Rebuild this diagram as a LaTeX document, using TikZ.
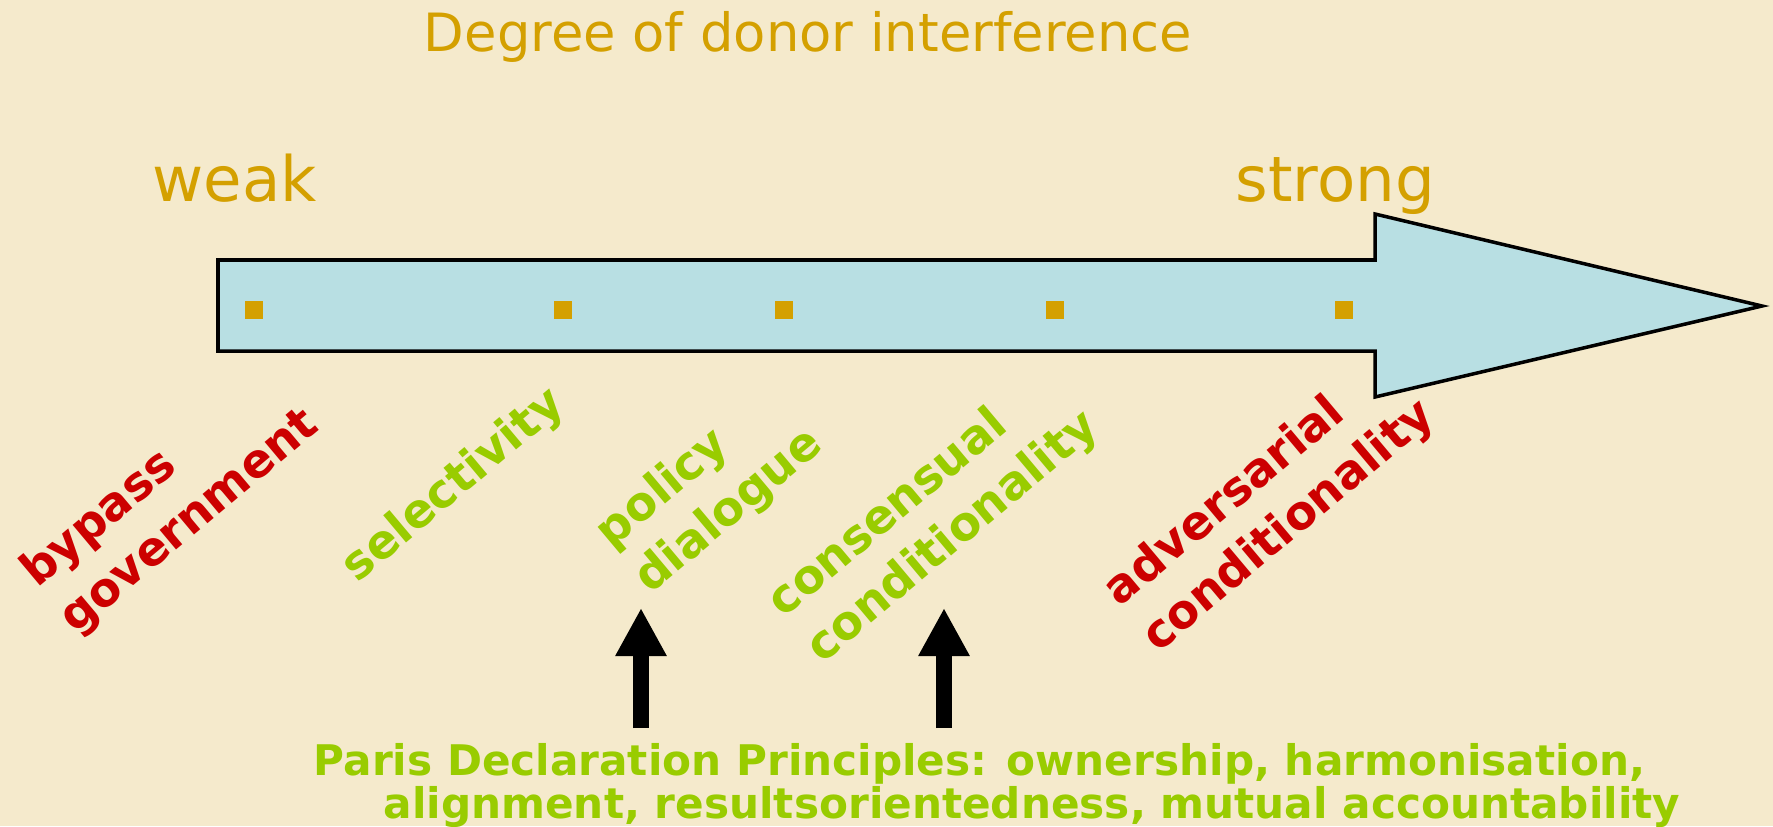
\documentclass[tikz,border=0pt]{standalone}
\usepackage{fontspec}
\setmainfont{DejaVu Sans}
\usetikzlibrary{arrows.meta}

\definecolor{paper}{HTML}{F5EACC}
\definecolor{barblue}{HTML}{B8DFE3}
\definecolor{gold}{HTML}{D4A000}
\definecolor{leaf}{HTML}{99CC00}
\definecolor{brick}{HTML}{CC0000}

\tikzset{
  scalelabel/.style={gold, inner sep=0pt, font=\fontsize{17.8}{20}\selectfont},
  stop/.style={fill=gold, minimum size=0.18cm, inner sep=0pt},
  tilted/.style={rotate=40, align=left, inner sep=0pt,
    font=\bfseries\fontsize{13.3}{17}\selectfont},
  pointer/.style={line width=0.16cm, -{Triangle[width=0.48cm,length=0.48cm]}}
}

\begin{document}
\begin{tikzpicture}[x=0.01cm, y=0.01cm]
    \fill[paper] (0,0) rectangle (1773,826);
    \useasboundingbox (0,0) rectangle (1773,826);

    \node[gold, anchor=base, inner sep=0pt, font=\fontsize{15}{18}\selectfont]
        (title) at (808,775) {Degree of donor interference};
    \node[scalelabel, anchor=base west] (weak) at (152,625) {weak};
    \node[scalelabel, anchor=base west] (strong) at (1235,625) {strong};

    % the scale bar
    \draw[fill=barblue, line width=1pt] (218,475) -- (218,566) -- (1375,566)
        -- (1375,612) -- (1762,520) -- (1375,429) -- (1375,475) -- cycle;
    \foreach \x [count=\i] in {254,563,784,1055,1344}
        \node[stop] (stop\i) at (\x,516) {};

    \node[tilted, brick] (bypass) at (171,327) {bypass\\government};
    \node[tilted, leaf] (select) at (454,340) {selectivity};
    \node[tilted, leaf] (dialogue) at (710,337) {policy\\dialogue};
    \node[tilted, leaf] (consensual) at (934,311) {consensual\\conditionality};
    \node[tilted, brick] (adversarial) at (1270,322) {adversarial\\conditionality};

    \node[anchor=base west, leaf, inner sep=0pt, align=left,
        font=\bfseries\fontsize{12}{12}\selectfont] (paris) at (313,8)
        {Paris Declaration Principles: ownership, harmonisation,\\
         \hspace*{19.9pt}alignment, resultsorientedness, mutual accountability};

    \coordinate (foot1) at (641,98);
    \coordinate (tip1) at (641,218);
    \coordinate (foot2) at (944,98);
    \coordinate (tip2) at (944,218);
    \draw[pointer] (foot1) -- (tip1);
    \draw[pointer] (foot2) -- (tip2);
\end{tikzpicture}
\end{document}
